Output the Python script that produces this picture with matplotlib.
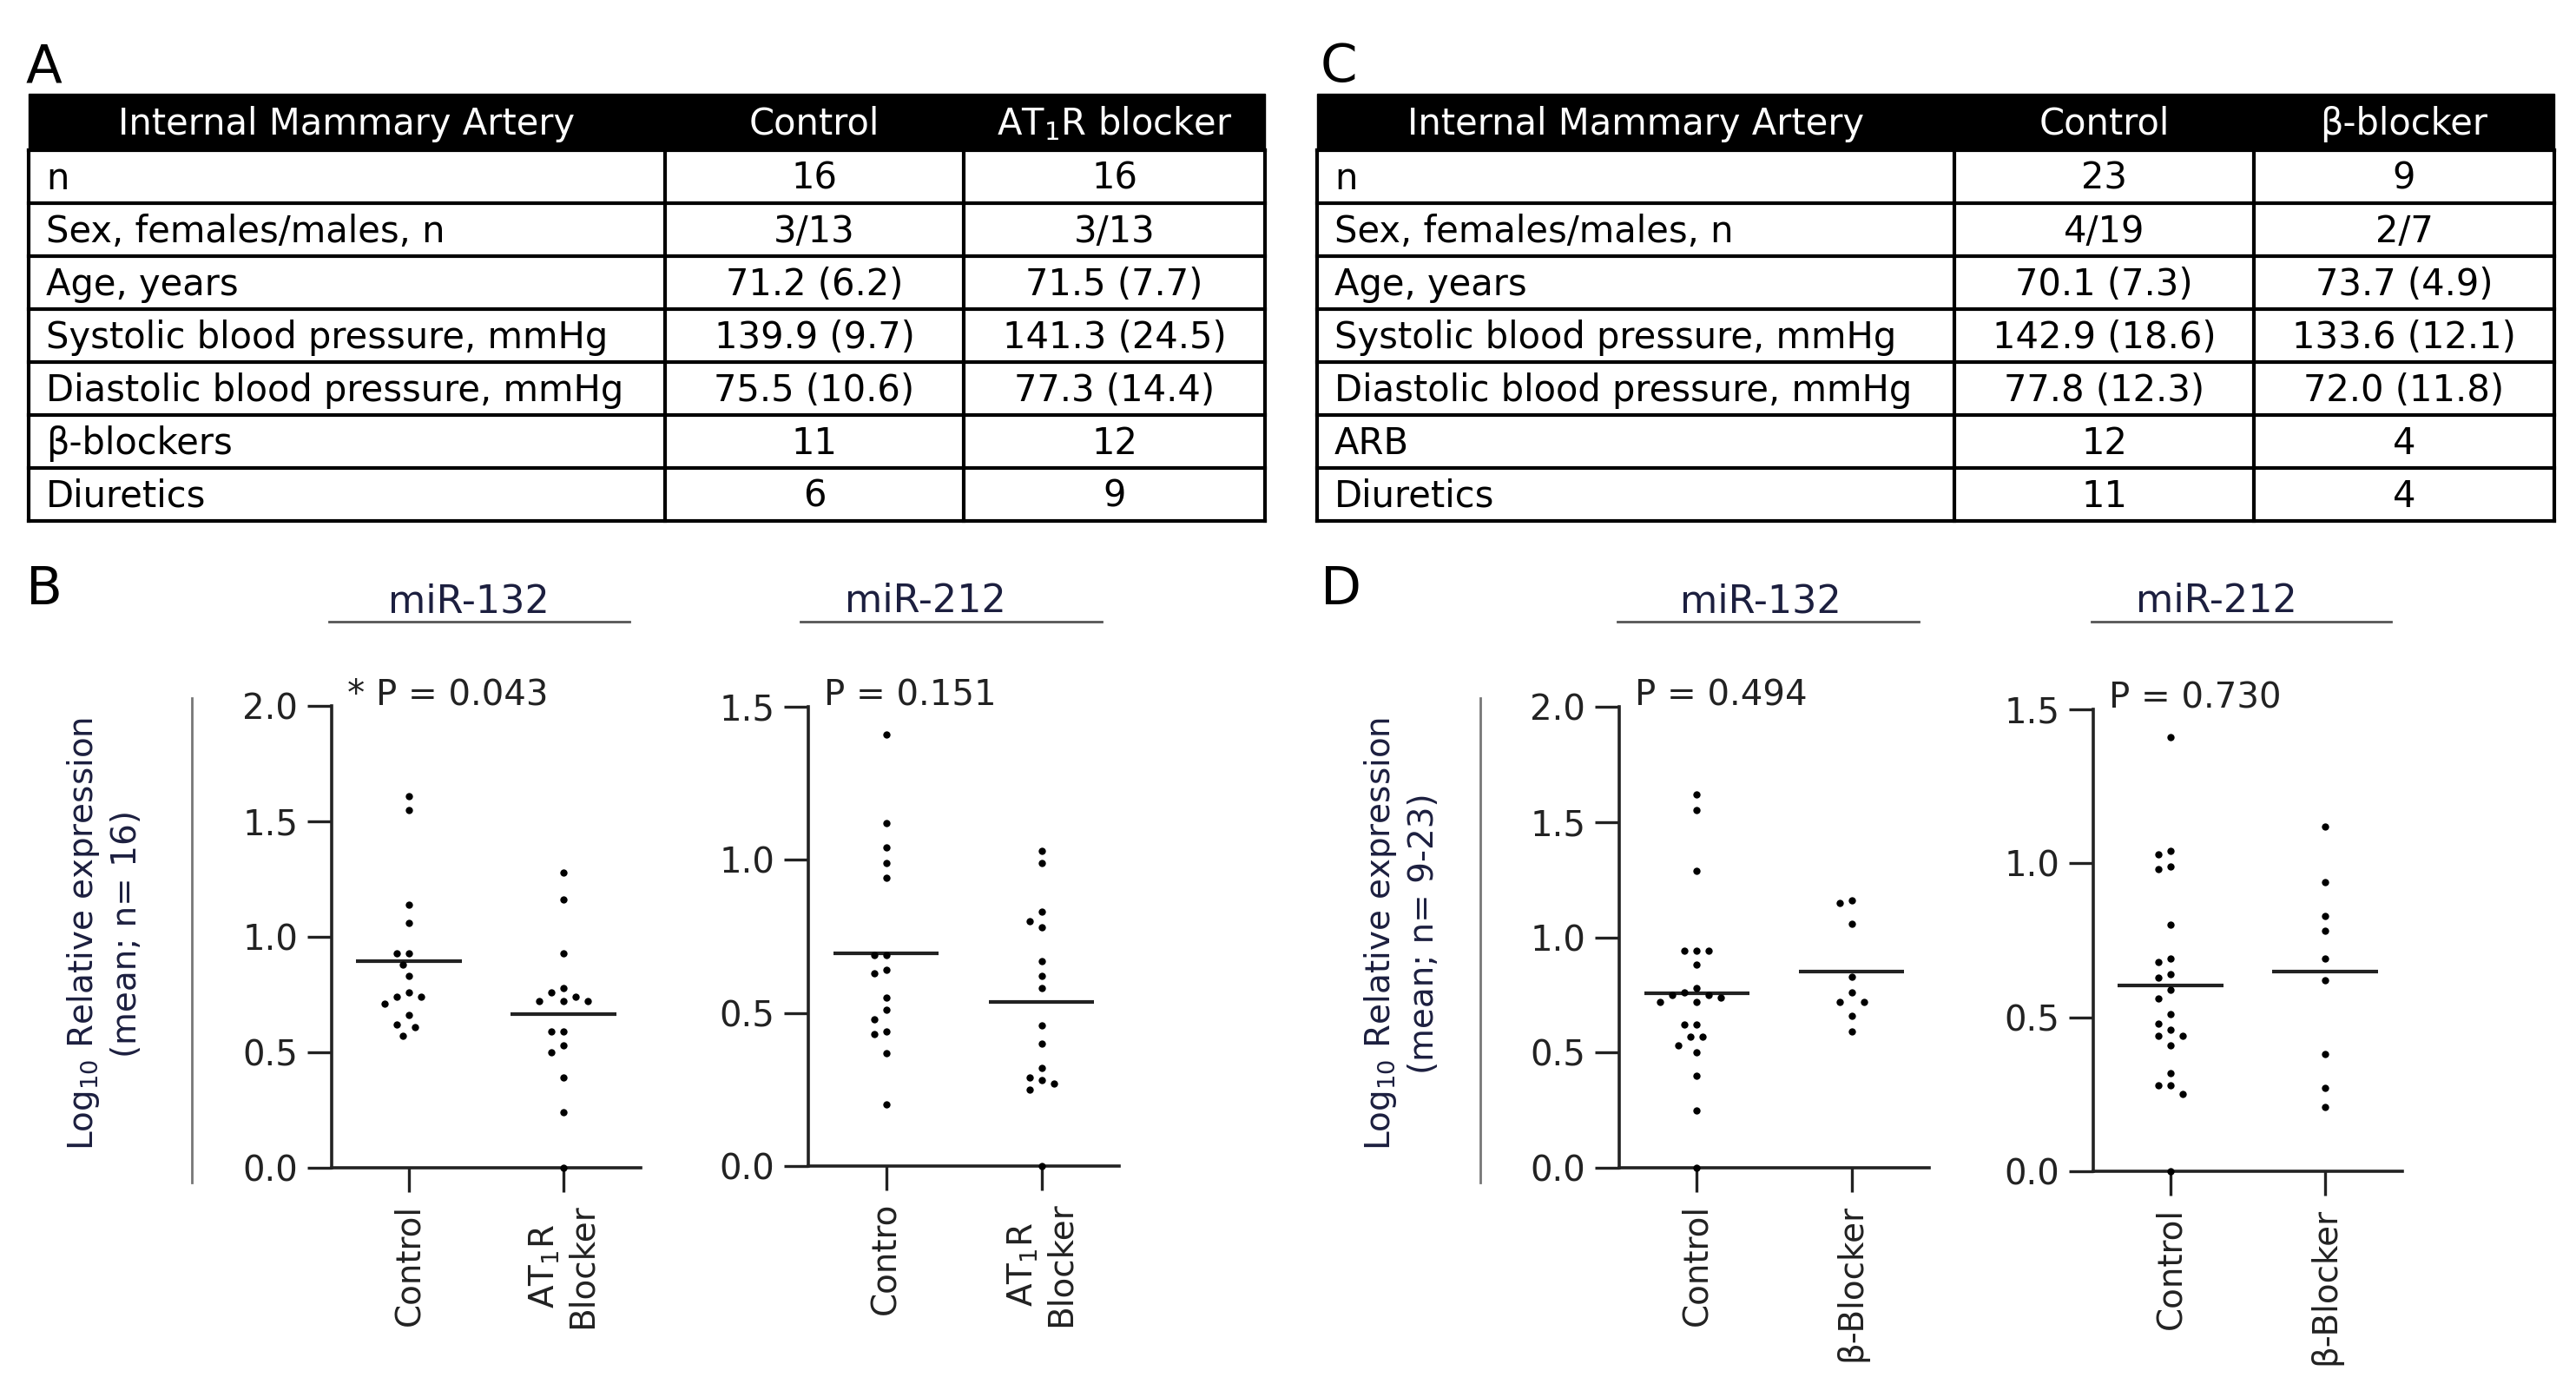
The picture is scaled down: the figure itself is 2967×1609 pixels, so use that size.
import numpy as np
import matplotlib
matplotlib.use("Agg")
import matplotlib.pyplot as plt

W, H = 2967, 1609
NAVY = "#1c1f3f"
DARK = "#222222"

# table A : AT1R blocker cohort
rowsA = ["n", "Sex, females/males, n", "Age, years", "Systolic blood pressure, mmHg",
         "Diastolic blood pressure, mmHg", "β-blockers", "Diuretics"]
ctrlA = ["16", "3/13", "71.2 (6.2)", "139.9 (9.7)", "75.5 (10.6)", "11", "6"]
blkA = ["16", "3/13", "71.5 (7.7)", "141.3 (24.5)", "77.3 (14.4)", "12", "9"]
headA = ["Internal Mammary Artery", "Control", "AT$_1$R blocker"]

# table C : beta blocker cohort
rowsC = ["n", "Sex, females/males, n", "Age, years", "Systolic blood pressure, mmHg",
         "Diastolic blood pressure, mmHg", "ARB", "Diuretics"]
ctrlC = ["23", "4/19", "70.1 (7.3)", "142.9 (18.6)", "77.8 (12.3)", "12", "11"]
blkC = ["9", "2/7", "73.7 (4.9)", "133.6 (12.1)", "72.0 (11.8)", "4", "4"]
headC = ["Internal Mammary Artery", "Control", "β-blocker"]

# log10 relative expression
b132_ctrl = [1.61, 1.55, 1.14, 1.06, 0.93, 0.93, 0.88, 0.83, 0.76, 0.74, 0.74, 0.71, 0.66, 0.62, 0.61, 0.57]
b132_blk = [1.28, 1.16, 0.93, 0.78, 0.76, 0.74, 0.72, 0.72, 0.72, 0.59, 0.59, 0.53, 0.50, 0.39, 0.24, 0.00]
b212_ctrl = [1.41, 1.12, 1.04, 0.99, 0.94, 0.69, 0.69, 0.64, 0.63, 0.55, 0.51, 0.48, 0.44, 0.43, 0.37, 0.20]
b212_blk = [1.03, 0.99, 0.83, 0.80, 0.78, 0.67, 0.62, 0.58, 0.46, 0.40, 0.32, 0.29, 0.28, 0.27, 0.25, 0.00]
d132_ctrl = [1.62, 1.55, 1.29, 0.94, 0.94, 0.94, 0.88, 0.78, 0.76, 0.75, 0.75, 0.74, 0.72, 0.72,
             0.62, 0.62, 0.57, 0.57, 0.53, 0.50, 0.40, 0.25, 0.00]
d132_blk = [1.16, 1.15, 1.06, 0.83, 0.76, 0.72, 0.72, 0.66, 0.59]
d212_ctrl = [1.41, 1.04, 1.03, 0.99, 0.98, 0.80, 0.69, 0.68, 0.64, 0.63, 0.59, 0.56, 0.51, 0.48,
             0.46, 0.44, 0.44, 0.41, 0.32, 0.28, 0.28, 0.25, 0.00]
d212_blk = [1.12, 0.94, 0.83, 0.78, 0.69, 0.62, 0.38, 0.27, 0.21]

labelsB = ["Control", "AT$_1$R\nBlocker"]
labelsB2 = ["Contro", "AT$_1$R\nBlocker"]
labelsD = ["Control", "β-Blocker"]
pvals = ["* P = 0.043", "P = 0.151", "P = 0.494", "P = 0.730"]
mirs = ["miR-132", "miR-212", "miR-132", "miR-212"]

#############################################################
def px(x0, y0, x1, y1):
    # pixel box (top-left origin) -> figure fraction rect
    return [x0 / W, 1 - y1 / H, (x1 - x0) / W, (y1 - y0) / H]

#############################################################
def drawTable(ov, left, right, top, hbot, bottom, cols, head, rows, c1, c2):
    ov.add_patch(plt.Rectangle((left, top), right - left, hbot - top, color="black", zorder=1))
    xs = [left] + cols + [right]
    for j, t in enumerate(head):
        ov.text((xs[j] + xs[j + 1]) / 2, (top + hbot) / 2 + 2, t, color="white", fontsize=30,
                ha="center", va="center")
    rh = (bottom - hbot) / len(rows)
    for i in range(len(rows) + 1):
        ov.plot([left, right], [hbot + i * rh] * 2, color="black", lw=3, solid_capstyle="projecting")
    for x in xs:
        ov.plot([x, x], [hbot, bottom], color="black", lw=3, solid_capstyle="projecting")
    for i in range(len(rows)):
        yc = hbot + (i + 0.5) * rh + 2
        ov.text(left + 20, yc, rows[i], fontsize=30, ha="left", va="center")
        ov.text((xs[1] + xs[2]) / 2, yc, c1[i], fontsize=30, ha="center", va="center")
        ov.text((xs[2] + xs[3]) / 2, yc, c2[i], fontsize=30, ha="center", va="center")

#############################################################
def swarm(vals, ypx, xpx, step=7.0, dist=14.0):
    vals = np.asarray(vals, dtype=float)
    order = np.argsort(-vals, kind="stable")
    placed = []
    offs = np.zeros(len(vals))
    for i in order:
        y = vals[i] * ypx
        for k in [0, -1, 1, -2, 2, -3, 3, -4, 4, -5, 5, -6, 6]:
            x = k * step
            if all((x - a) ** 2 + (y - b) ** 2 >= dist ** 2 for a, b in placed):
                break
        placed.append((x, y))
        offs[i] = x / xpx
    return offs

#############################################################
def dotPlot(box, ymax, groups, xlabels, ptext, mir, mirx):
    x0, y0, x1, y1 = box
    ax = fig.add_axes(px(x0, y0, x1, y1))
    ax.set_facecolor("none")
    ax.set_xlim(-0.5, 1.5)
    ax.set_ylim(0, ymax)
    xpx = (x1 - x0) / 2.0
    ypx = (y1 - y0) / ymax
    for i, g in enumerate(groups):
        offs = swarm(g, ypx, xpx)
        ax.scatter(i + offs, g, s=36, color="black", marker="o", lw=0, zorder=5, clip_on=False)
        ax.hlines(np.mean(g), i - 0.34, i + 0.34, color=DARK, lw=3.0, zorder=4)
    for s in ["top", "right"]:
        ax.spines[s].set_visible(False)
    for s in ["left", "bottom"]:
        ax.spines[s].set_linewidth(2.6)
        ax.spines[s].set_color(DARK)
    ax.set_yticks(np.arange(0, ymax + 0.01, 0.5))
    ax.set_yticklabels(["%.1f" % v for v in np.arange(0, ymax + 0.01, 0.5)], fontsize=29, color=DARK)
    ax.set_xticks([0, 1])
    ax.set_xticklabels(xlabels, rotation=90, fontsize=28, color=DARK, linespacing=1.15)
    ax.tick_params(axis="both", length=20, width=2.4, color=DARK, pad=8)
    ax.tick_params(axis="x", pad=10)
    # p value and miR title
    ov.text(x0 + 18, y0 - 2, ptext, fontsize=29, color=DARK, ha="left", va="baseline")
    ov.text(mirx, 705, mir, fontsize=32, color=NAVY, ha="center", va="baseline")
    return ax

#############################################################
fig = plt.figure(figsize=(W / 100, H / 100), dpi=100)
ov = fig.add_axes([0, 0, 1, 1])
ov.set_xlim(0, W)
ov.set_ylim(H, 0)
ov.axis("off")

# panel letters
for lab, x, y in [("A", 30, 48), ("C", 1521, 48), ("B", 30, 650), ("D", 1521, 650)]:
    ov.text(x, y, lab, fontsize=44, ha="left", va="top")

drawTable(ov, 33, 1457, 108, 173, 600, [766, 1110], headA, rowsA, ctrlA, blkA)
drawTable(ov, 1517, 2942, 108, 173, 600, [2251, 2596], headC, rowsC, ctrlC, blkC)

dotPlot((382, 813, 738, 1345), 2.0, [b132_ctrl, b132_blk], labelsB, pvals[0], mirs[0], 540)
dotPlot((931, 814, 1289, 1343), 1.5, [b212_ctrl, b212_blk], labelsB2, pvals[1], mirs[1], 1066)
dotPlot((1865, 814, 2222, 1345), 2.0, [d132_ctrl, d132_blk], labelsD, pvals[2], mirs[2], 2028)
dotPlot((2411, 817, 2767, 1349), 1.5, [d212_ctrl, d212_blk], labelsD, pvals[3], mirs[3], 2553)

# underlines under miR titles
for a, b in [(379, 725), (922, 1269), (1863, 2210), (2409, 2754)]:
    ov.plot([a, b], [716, 716], color="#555555", lw=2)

# shared y labels and the grey bars next to them
for x, n in [(120, "16"), (1614, "9-23")]:
    ov.text(x, 1075, "Log$_{10}$ Relative expression\n(mean; n= %s)" % n, rotation=90,
            fontsize=28, color=NAVY, ha="center", va="center", multialignment="center",
            linespacing=1.35)
for x in [221, 1705]:
    ov.plot([x, x], [804, 1362], color="#777777", lw=2)

fig.savefig("out.png", dpi=100, facecolor="white")
